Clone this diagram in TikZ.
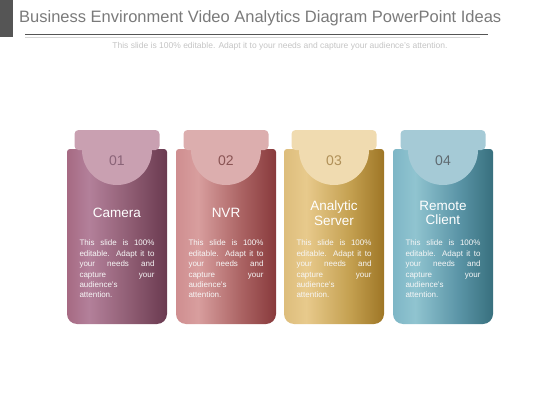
\documentclass[tikz,border=0pt]{standalone}
\usepackage{fontspec}
\setmainfont{Liberation Sans}
\usepackage{tikz}
\usetikzlibrary{positioning}
\definecolor{barGray}{HTML}{555555}
\definecolor{titleGray}{HTML}{7A7A7A}
\definecolor{subGray}{HTML}{C4C4C4}
\definecolor{camTab}{HTML}{C9A0B1}
\definecolor{camNum}{HTML}{8A6478}
\definecolor{nvrTab}{HTML}{DCAEAE}
\definecolor{nvrNum}{HTML}{8A5454}
\definecolor{srvTab}{HTML}{F0DBB0}
\definecolor{srvNum}{HTML}{B09058}
\definecolor{cliTab}{HTML}{A5CAD6}
\definecolor{cliNum}{HTML}{5F6A70}
\definecolor{camA}{HTML}{A66A83}
\definecolor{camB}{HTML}{B3809A}
\definecolor{camC}{HTML}{8C5A70}
\definecolor{camD}{HTML}{6A3A50}
\definecolor{nvrA}{HTML}{CF8E90}
\definecolor{nvrB}{HTML}{D89E9E}
\definecolor{nvrC}{HTML}{AA6262}
\definecolor{nvrD}{HTML}{883A3C}
\definecolor{srvA}{HTML}{DDBD7C}
\definecolor{srvB}{HTML}{E8CA8C}
\definecolor{srvC}{HTML}{C4A050}
\definecolor{srvD}{HTML}{9E7626}
\definecolor{cliA}{HTML}{7EB6C6}
\definecolor{cliB}{HTML}{90C4D0}
\definecolor{cliC}{HTML}{5A94A6}
\definecolor{cliD}{HTML}{38707E}
\pgfdeclarehorizontalshading{camShade}{100bp}{color(0bp)=(camA); color(25bp)=(camA); color(36bp)=(camB); color(58bp)=(camC); color(75bp)=(camD); color(100bp)=(camD)}
\pgfdeclarehorizontalshading{nvrShade}{100bp}{color(0bp)=(nvrA); color(25bp)=(nvrA); color(36bp)=(nvrB); color(58bp)=(nvrC); color(75bp)=(nvrD); color(100bp)=(nvrD)}
\pgfdeclarehorizontalshading{srvShade}{100bp}{color(0bp)=(srvA); color(25bp)=(srvA); color(36bp)=(srvB); color(58bp)=(srvC); color(75bp)=(srvD); color(100bp)=(srvD)}
\pgfdeclarehorizontalshading{cliShade}{100bp}{color(0bp)=(cliA); color(25bp)=(cliA); color(36bp)=(cliB); color(58bp)=(cliC); color(75bp)=(cliD); color(100bp)=(cliD)}

\begin{document}
\begin{tikzpicture}[x=1pt,y=-1pt,
  title/.style={anchor=west,inner sep=0pt,text=titleGray,font=\fontsize{16.5}{18}\selectfont},
  subtitle/.style={inner sep=0pt,text=subGray,font=\fontsize{8.5}{9}\selectfont},
  num/.style={inner sep=0pt,font=\fontsize{14}{16}\selectfont},
  head/.style={inner sep=0pt,text=white,align=center,font=\fontsize{13.5}{14.5}\selectfont},
  info/.style={anchor=north,inner sep=0pt,text=white!94!gray,text width=75pt,align=justify,font=\fontsize{8}{10.4}\selectfont}]
\useasboundingbox (0,0) rectangle (560,420);
\fill[barGray] (0,0) rectangle (13,37);
\node[title] (heading) at (19,18) {Business Environment Video Analytics Diagram PowerPoint Ideas};
\draw[barGray,line width=0.9pt] (25,34) -- (488,34);
\draw[subGray!70,line width=0.8pt] (25,37) -- (480,37);
\node[subtitle] (tagline) at (280,46) {This slide is 100\% editable. Adapt it to your needs and capture your audience's attention.};

\begin{scope}[xshift=117pt]
\shade[shading=camShade,rounded corners=3pt] (0,149) -- (-50,149) [rounded corners=10pt] -- (-50,324) -- (50,324) [rounded corners=3pt] -- (50,149) -- cycle;
\fill[camTab,rounded corners=4pt] (-35,150) -- (-42.5,150) -- (-42.5,130) -- (42.5,130) -- (42.5,150) [sharp corners] -- (35,150) arc[start angle=0,end angle=180,radius=35] -- cycle;
\node[num,text=camNum] (n1) at (0,160.5) {01};
\node[head] (h1) at (0,213) {Camera};
\node[info] (i1) at (0,240) {This slide is 100\%\linebreak editable. Adapt it to\linebreak your needs and\linebreak capture your\linebreak audience's\\ attention.};
\end{scope}

\begin{scope}[xshift=226pt]
\shade[shading=nvrShade,rounded corners=3pt] (0,149) -- (-50,149) [rounded corners=10pt] -- (-50,324) -- (50,324) [rounded corners=3pt] -- (50,149) -- cycle;
\fill[nvrTab,rounded corners=4pt] (-35,150) -- (-42.5,150) -- (-42.5,130) -- (42.5,130) -- (42.5,150) [sharp corners] -- (35,150) arc[start angle=0,end angle=180,radius=35] -- cycle;
\node[num,text=nvrNum] (n2) at (0,160.5) {02};
\node[head] (h2) at (0,213) {NVR};
\node[info] (i2) at (0,240) {This slide is 100\%\linebreak editable. Adapt it to\linebreak your needs and\linebreak capture your\linebreak audience's\\ attention.};
\end{scope}

\begin{scope}[xshift=334pt]
\shade[shading=srvShade,rounded corners=3pt] (0,149) -- (-50,149) [rounded corners=10pt] -- (-50,324) -- (50,324) [rounded corners=3pt] -- (50,149) -- cycle;
\fill[srvTab,rounded corners=4pt] (-35,150) -- (-42.5,150) -- (-42.5,130) -- (42.5,130) -- (42.5,150) [sharp corners] -- (35,150) arc[start angle=0,end angle=180,radius=35] -- cycle;
\node[num,text=srvNum] (n3) at (0,160.5) {03};
\node[head] (h3) at (0,213) {Analytic\\ Server};
\node[info] (i3) at (0,240) {This slide is 100\%\linebreak editable. Adapt it to\linebreak your needs and\linebreak capture your\linebreak audience's\\ attention.};
\end{scope}

\begin{scope}[xshift=443pt]
\shade[shading=cliShade,rounded corners=3pt] (0,149) -- (-50,149) [rounded corners=10pt] -- (-50,324) -- (50,324) [rounded corners=3pt] -- (50,149) -- cycle;
\fill[cliTab,rounded corners=4pt] (-35,150) -- (-42.5,150) -- (-42.5,130) -- (42.5,130) -- (42.5,150) [sharp corners] -- (35,150) arc[start angle=0,end angle=180,radius=35] -- cycle;
\node[num,text=cliNum] (n4) at (0,160.5) {04};
\node[head] (h4) at (0,213) {Remote\\ Client};
\node[info] (i4) at (0,240) {This slide is 100\%\linebreak editable. Adapt it to\linebreak your needs and\linebreak capture your\linebreak audience's\\ attention.};
\end{scope}
\end{tikzpicture}
\end{document}
